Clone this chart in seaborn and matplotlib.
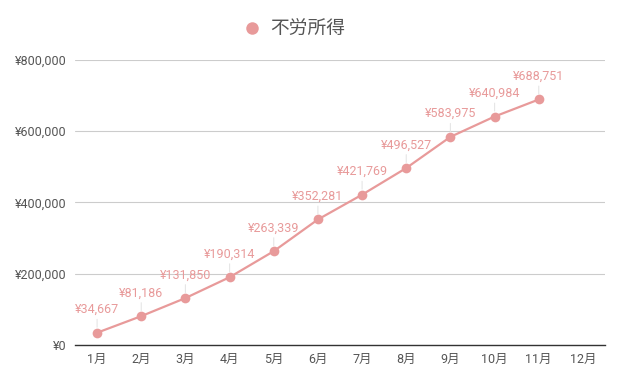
import matplotlib
matplotlib.use('Agg')
import matplotlib.pyplot as plt
import seaborn as sns
import pandas as pd
from matplotlib.ticker import FuncFormatter

months = ['1月', '2月', '3月', '4月', '5月', '6月', '7月', '8月', '9月', '10月', '11月', '12月']
income = [34667, 81186, 131850, 190314, 263339, 352281, 421769, 496527, 583975, 640984, 688751]
series_name = '不労所得'
y_ticks = [0, 200000, 400000, 600000, 800000]

sns.set_style('white')
plt.rcParams['font.family'] = ['Roboto', 'Noto Sans CJK JP', 'DejaVu Sans']

color = '#e89a9a'

df = pd.DataFrame({'month': months[:len(income)], 'income': income})

fig = plt.figure(figsize=(6.25, 3.86), dpi=100)
ax = fig.add_axes([0.12, 0.106, 0.848, 0.739])

sns.lineplot(data=df, x='month', y='income', ax=ax, color=color, marker='o',
             markersize=7, markeredgewidth=0, linewidth=1.6, label=series_name)

ax.set_xlim(-0.5, len(months) - 0.5)
ax.set_xticks(range(len(months)))
ax.set_xticklabels(months)
ax.set_ylim(0, 800000)
ax.set_yticks(y_ticks)
ax.yaxis.set_major_formatter(FuncFormatter(lambda v, p: f'¥{int(v):,}'))
ax.grid(axis='y', color='#cccccc', linewidth=0.8)
ax.set_axisbelow(True)
for s in ['top', 'right', 'left']:
    ax.spines[s].set_visible(False)
ax.spines['bottom'].set_color('#333333')
ax.spines['bottom'].set_linewidth(1.0)
ax.tick_params(axis='both', length=0, labelsize=9, colors='#555555', pad=6)
ax.set_xlabel('')
ax.set_ylabel('')

# data labels with thin leader lines
for i, v in enumerate(income):
    ax.annotate(f'¥{v:,}', xy=(i, v), xytext=(0, 12), textcoords='offset points',
                ha='center', va='bottom', fontsize=9, color=color,
                arrowprops=dict(arrowstyle='-', color='#e6e6e6', lw=0.8,
                                shrinkA=0, shrinkB=4))

leg = ax.legend(loc='center', bbox_to_anchor=(0.415, 1.105), frameon=False,
                handlelength=0.8, handletextpad=0.6, fontsize=13.5)
for h in leg.get_lines():
    h.set_linestyle('none')
    h.set_markersize(9)
for t in leg.get_texts():
    t.set_color('#555555')

fig.savefig('out.png', dpi=100)
